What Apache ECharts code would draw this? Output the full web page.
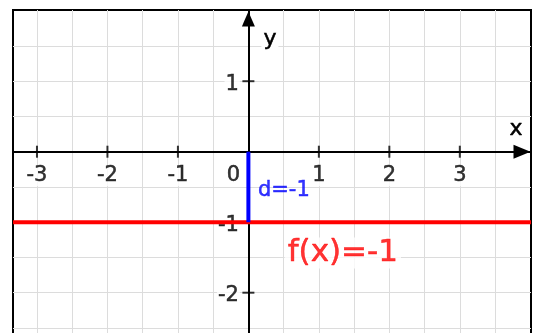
<!DOCTYPE html>
<html>
<head>
<meta charset="utf-8">
<script src="https://cdn.jsdelivr.net/npm/echarts@6/dist/echarts.min.js"></script>
<style>
html,body{margin:0;padding:0;background:#fff}
#chart{width:539px;height:333px}
</style>
</head>
<body>
<div id="chart"></div>
<script>
// visible part of the plane
const xRange = [-3.34, 4.01]
const yRange = [-2.6, 2.01]

// tick marks and tick labels
const xTicks = [-3, -2, -1, 1, 2, 3]
const xLabels = [-3, -2, -1, 0, 1, 2, 3]
const yTicks = [1, -1, -2]

// light grid, every half unit
const gridX = [-3, -2.5, -2, -1.5, -1, -0.5, 0.5, 1, 1.5, 2, 2.5, 3, 3.5]
const gridY = [1.5, 1, 0.5, -0.5, -1, -1.5, -2, -2.5]

// f(x) = -1
const fX = [-3.34, 4.01]
const fY = [-1, -1]

// distance d from the origin to the line
const dX = [0, 0]
const dY = [0, -1]

// annotation texts
const dText = "d=-1"
const fText = "f(x)=-1"
const fTextAt = [1.34, -1.41]

const FONT = "DejaVu Sans"
const INK = "#000"

const chart = echarts.init(document.getElementById("chart"))

// a thin outline in the text colour makes the glyphs a bit heavier
const heavy = c => ({color: c, textBorderColor: c, textBorderWidth: 0.5})

const tickLabel = Object.assign({
    show: true, fontFamily: FONT, fontSize: 21,
    backgroundColor: "#fff", padding: [0, 1]
}, heavy(INK))

const nameRich = {t: Object.assign({fontFamily: FONT, fontSize: 22, backgroundColor: "#fff", padding: [0, 2]}, heavy(INK))}

const option = {
    animation: false,
    textStyle: {fontFamily: FONT},
    grid: {
        left: 13, top: 10, width: 518, height: 325,
        show: true, borderColor: "#000", borderWidth: 2, z: 3,
        outerBoundsMode: "none", containLabel: false
    },
    xAxis: {
        type: "value", min: xRange[0], max: xRange[1], z: 5,
        axisLine: {
            onZero: true, symbol: ["none", "triangle"], symbolSize: [14, 17], symbolOffset: [0, -9],
            lineStyle: {color: "#000", width: 2}
        },
        axisTick: {show: false},
        splitLine: {show: false},
        axisLabel: {show: false},
        name: "{t|x}", nameLocation: "end", nameGap: -15, nameMoveOverlap: false,
        nameTextStyle: {align: "center", verticalAlign: "bottom", padding: [0, 0, 11, 0], rich: nameRich}
    },
    yAxis: {
        type: "value", min: yRange[0], max: yRange[1], z: 5,
        axisLine: {
            onZero: true, symbol: ["none", "triangle"], symbolSize: [13, 15], symbolOffset: [0, -9],
            lineStyle: {color: "#000", width: 2}
        },
        axisTick: {show: false},
        splitLine: {show: false},
        axisLabel: {show: false},
        name: "{t|y}", nameLocation: "end", nameGap: -29, nameMoveOverlap: false,
        nameTextStyle: {align: "left", verticalAlign: "middle", padding: [0, 0, 0, 13], rich: nameRich}
    },
    series: [
        {
            // half-unit grid
            type: "line", data: [], z: 1, silent: true,
            markLine: {
                silent: true, symbol: ["none", "none"], label: {show: false},
                lineStyle: {color: "#dcdcdc", width: 1, type: "solid"},
                data: gridX.map(v => ({xAxis: v})).concat(gridY.map(v => ({yAxis: v})))
            }
        },
        {
            // ticks across the x axis
            type: "scatter", z: 6, silent: true,
            symbol: "rect", symbolSize: [2, 12],
            itemStyle: {color: "#000"},
            data: xTicks.map(v => [v, 0])
        },
        {
            // ticks across the y axis
            type: "scatter", z: 6, silent: true,
            symbol: "rect", symbolSize: [12, 2],
            itemStyle: {color: "#000"},
            data: yTicks.map(v => [0, v])
        },
        {
            // x tick labels
            type: "scatter", z: 7, silent: true,
            symbolSize: 1, itemStyle: {color: "rgba(0,0,0,0)"},
            label: Object.assign({position: "bottom", distance: 13, formatter: p => String(p.value[0])}, tickLabel),
            data: xLabels.map(v => v === 0
                ? {value: [v, 0], label: {offset: [-15, 0], backgroundColor: "rgba(0,0,0,0)"}}
                : [v, 0])
        },
        {
            // y tick labels
            type: "scatter", z: 7, silent: true,
            symbolSize: 1, itemStyle: {color: "rgba(0,0,0,0)"},
            label: Object.assign({position: "left", distance: 8, offset: [0, 3], formatter: p => String(p.value[1])}, tickLabel),
            data: yTicks.map(v => [0, v])
        },
        {
            name: "f", type: "line", z: 10, silent: true,
            symbol: "none",
            lineStyle: {color: "#ff0000", width: 4},
            data: fX.map((x, i) => [x, fY[i]])
        },
        {
            name: "d", type: "line", z: 11, silent: true,
            symbol: "none",
            lineStyle: {color: "#0000ff", width: 4},
            data: dX.map((x, i) => [x, dY[i]])
        },
        {
            // annotation texts
            type: "scatter", z: 12, silent: true,
            symbolSize: 1, itemStyle: {color: "rgba(0,0,0,0)"},
            data: [
                {
                    value: [dX[0], (dY[0] + dY[1]) / 2],
                    label: Object.assign({
                        show: true, position: "right", distance: 9, offset: [0, 4], formatter: dText,
                        fontFamily: FONT, fontSize: 21
                    }, heavy("#0000ff"))
                },
                {
                    value: fTextAt,
                    label: Object.assign({
                        show: true, position: "inside", offset: [0, 2], formatter: fText,
                        fontFamily: FONT, fontSize: 31,
                        backgroundColor: "#fff", padding: [0, 3]
                    }, heavy("#ff0000"))
                }
            ]
        }
    ]
}

chart.setOption(option)
</script>
</body>
</html>
